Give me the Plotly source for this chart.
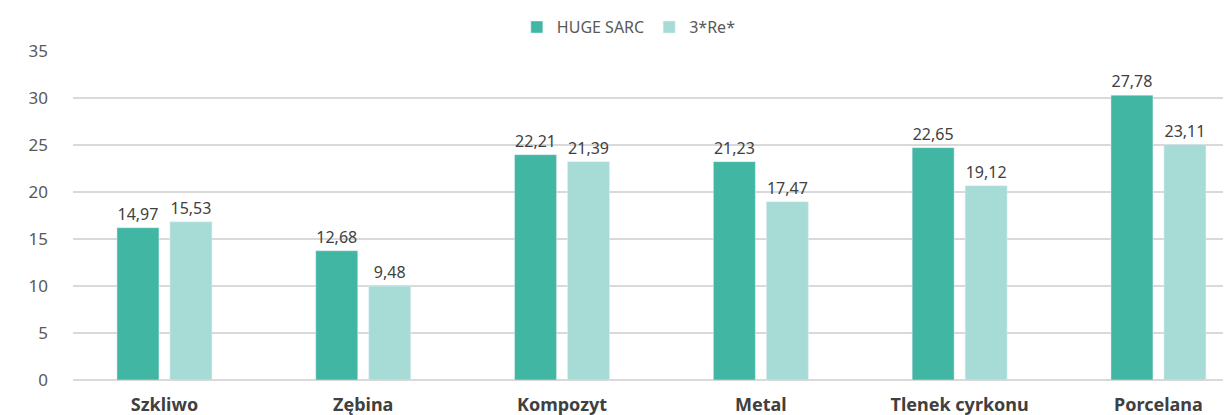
import plotly.graph_objects as go

categories = ["Szkliwo", "Zębina", "Kompozyt", "Metal", "Tlenek cyrkonu", "Porcelana"]

# bar heights as drawn in the picture
huge_sarc = [16.2, 13.75, 23.97, 23.23, 24.72, 30.3]
three_re = [16.83, 10.0, 23.23, 18.97, 20.67, 25.04]

# data labels as printed above the bars
huge_sarc_labels = ["14,97", "12,68", "22,21", "21,23", "22,65", "27,78"]
three_re_labels = ["15,53", "9,48", "21,39", "17,47", "19,12", "23,11"]

y_ticks = [0, 5, 10, 15, 20, 25, 30, 35]

fig = go.Figure()
fig.add_trace(go.Bar(
    x=categories, y=huge_sarc, name="HUGE SARC",
    marker_color="#40B6A3",
    text=huge_sarc_labels, textposition="outside", cliponaxis=False,
    constraintext="none",
    textfont=dict(size=16, color="#404040"),
))
fig.add_trace(go.Bar(
    x=categories, y=three_re, name="3*Re*",
    marker_color="#A7DCD6",
    text=three_re_labels, textposition="outside", cliponaxis=False,
    constraintext="none",
    textfont=dict(size=16, color="#404040"),
))

# page body has an 8px margin, so the figure is a bit smaller than the window
fig.update_layout(
    width=1223, height=407,
    margin=dict(l=65, r=0, t=43, b=35, autoexpand=False),
    paper_bgcolor="white", plot_bgcolor="white",
    font=dict(family="Noto Sans", size=16, color="#595959"),
    barmode="group", bargap=0.467, bargroupgap=0.2075,
    showlegend=True,
    legend=dict(orientation="h", x=0.48, xanchor="center", y=0.953, yref="container",
                yanchor="middle", font=dict(size=16, color="#595959"), itemwidth=30),
)
fig.update_xaxes(
    range=[-0.46, 5.365], showgrid=False, showline=False, ticks="", automargin=False,
    tickfont=dict(size=18, color="#404040", family="Noto Sans", weight="bold"),
    ticklabelstandoff=12,
)
fig.update_yaxes(
    range=[0, 35], tickvals=y_ticks, showgrid=True, gridcolor="#D9D9D9", gridwidth=1.5,
    zeroline=True, zerolinecolor="#D9D9D9", zerolinewidth=1.5, automargin=False,
    tickfont=dict(size=17, color="#595959"), ticklabelstandoff=24,
)

fig.write_html("out.html")
